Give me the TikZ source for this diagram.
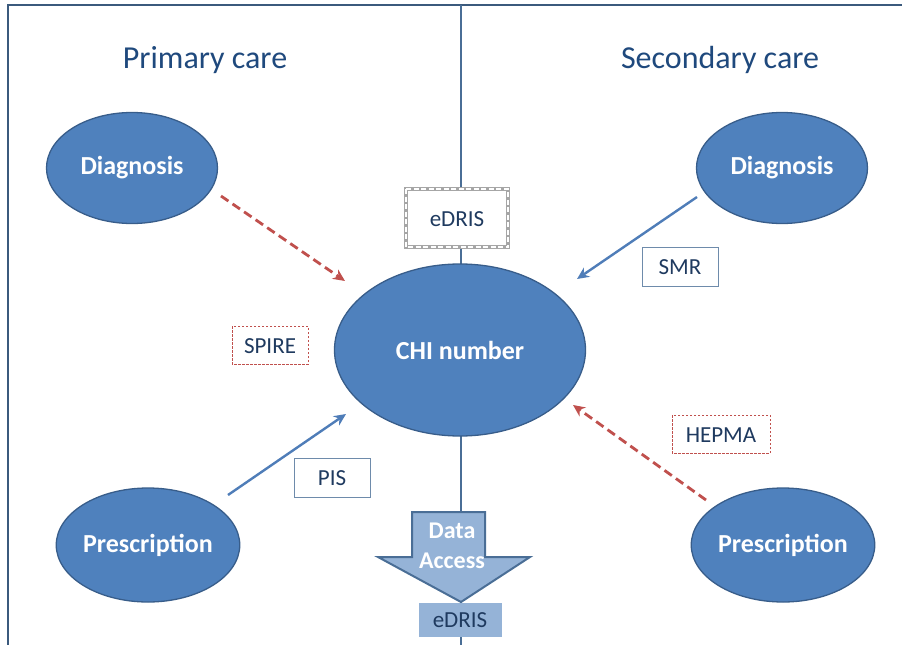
\documentclass[tikz,border=0pt]{standalone}
\usepackage{fontspec}
\setmainfont{Carlito}
\usetikzlibrary{shapes.geometric,arrows.meta,calc}
\definecolor{ellfill}{HTML}{4F81BD}
\definecolor{elldraw}{HTML}{385D8A}
\definecolor{headblue}{HTML}{1F497D}
\definecolor{frameblue}{HTML}{3B5A7D}
\definecolor{lineblue}{HTML}{4A6E96}
\definecolor{arrblue}{HTML}{4F7DB8}
\definecolor{dashred}{HTML}{C0504D}
\definecolor{lightblue}{HTML}{95B3D7}
\definecolor{textdark}{HTML}{1F3A5F}
\begin{document}
\begin{tikzpicture}[x=1pt,y=-1pt,
  ell/.style={ellipse,fill=ellfill,draw=elldraw,line width=1.3pt,text=white,font=\bfseries\fontsize{26}{30}\selectfont,inner sep=0pt},
  head/.style={text=headblue,font=\fontsize{32}{38}\selectfont},
  lbl/.style={text=textdark,font=\fontsize{23}{27}\selectfont,inner sep=0pt},
  solidarr/.style={draw=arrblue,line width=2.4pt,-{Stealth[length=12pt,width=11pt]}},
  dasharr/.style={draw=dashred,line width=2.8pt,dash pattern=on 9pt off 5pt,-{Stealth[length=12pt,width=11pt]}},
  boxsolid/.style={draw=lineblue!80,line width=0.9pt},
  boxdash/.style={draw=dashred,line width=0.8pt,dash pattern=on 2.5pt off 1.5pt}
]
\useasboundingbox (0,0) rectangle (902,645);
% frame
\draw[frameblue,line width=2.4pt] (8,645) -- (8,5) -- (902,5);
\coordinate (ctop) at (461,5);
\coordinate (cbot) at (461,645);
\draw[lineblue,line width=1.2pt] (ctop) -- (cbot);
% headings
\node[head] (prim) at (205,60) {Primary care};
\node[head] (sec) at (720,60) {Secondary care};
% ellipses
\node[ell,minimum width=171pt,minimum height=111pt] (dl) at (132,168) {Diagnosis};
\node[ell,minimum width=171pt,minimum height=111pt] (dr) at (782,168) {Diagnosis};
\node[ell,minimum width=251pt,minimum height=172pt] (chi) at (460,350) {CHI number};
\node[ell,minimum width=174pt,minimum height=114pt] (pl) at (148,545) {Prescription};
\node[ell,minimum width=175pt,minimum height=114pt] (pr) at (783,545) {Prescription};
% eDRIS chain box
\coordinate (eA) at (406,189);
\coordinate (eB) at (508,247);
\fill[white] (eA) rectangle (eB);
\draw[gray!70,line width=3.4pt] (eA) rectangle (eB);
\draw[white,line width=1.4pt,dash pattern=on 5pt off 2.5pt] (eA) rectangle (eB);
\node[lbl] (edris1) at (457,219) {eDRIS};
% boxes
\draw[boxdash] (232,326) rectangle (308,364);
\node[lbl] (spire) at (270,346) {SPIRE};
\draw[boxsolid] (642,247) rectangle (718,286);
\node[lbl] (smr) at (680,267) {SMR};
\draw[boxsolid] (294,458) rectangle (370,497);
\node[lbl] (pis) at (332,478) {PIS};
\draw[boxdash] (672,415) rectangle (770,453);
\node[lbl] (hepma) at (721,435) {HEPMA};
% arrows
\coordinate (a1s) at (221,196);
\coordinate (a1e) at (345,281);
\draw[dasharr] (a1s) -- (a1e);
\coordinate (a2s) at (697,197);
\coordinate (a2e) at (577,279);
\draw[solidarr] (a2s) -- (a2e);
\coordinate (a3s) at (228,495);
\coordinate (a3e) at (346,414);
\draw[solidarr] (a3s) -- (a3e);
\coordinate (a4s) at (706,500);
\coordinate (a4e) at (573,405);
\draw[dasharr] (a4s) -- (a4e);
% data access arrow
\draw[fill=lightblue,draw=lineblue,line width=2pt,line join=miter]
  (412,512) -- (485,512) -- (485,557) -- (530,557) -- (461,602) -- (378,557) -- (412,557) -- cycle;
\node[text=white,font=\bfseries\fontsize{24}{26}\selectfont,align=center,inner sep=0pt] (da) at (452,546) {Data\\[4pt]Access};
% bottom eDRIS box
\node[fill=lightblue,draw=none,minimum width=83pt,minimum height=34pt,lbl] (edris2) at (460,620) {eDRIS};
\end{tikzpicture}
\end{document}
